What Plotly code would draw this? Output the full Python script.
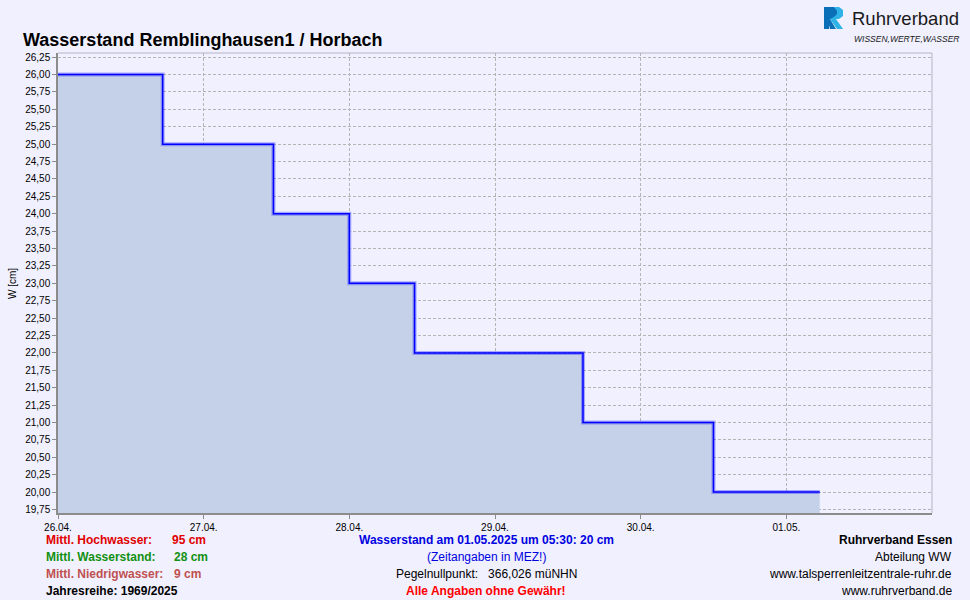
import plotly.graph_objects as go

# ---- data ----
times = ["2025-04-26 00:00", "2025-04-26 17:15", "2025-04-27 11:30", "2025-04-28 00:00",
         "2025-04-28 10:45", "2025-04-29 14:30", "2025-04-30 12:00", "2025-05-01 05:30"]
levels = [26.0, 25.0, 24.0, 23.0, 22.0, 21.0, 20.0, 20.0]
x_ticks = ["2025-04-26", "2025-04-27", "2025-04-28", "2025-04-29", "2025-04-30", "2025-05-01"]
x_tick_labels = ["26.04.", "27.04.", "28.04.", "29.04.", "30.04.", "01.05."]
x_range = ["2025-04-26 00:00", "2025-05-02 00:00"]
y_range = [19.70, 26.31]

title = "Wasserstand Remblinghausen1 / Horbach"
left_labels = ["Mittl. Hochwasser:", "Mittl. Wasserstand:", "Mittl. Niedrigwasser:", "Jahresreihe: 1969/2025"]
left_values = ["95 cm", "28 cm", "9 cm", ""]
left_colors = ["#E00000", "#129012", "#C05050", "#000000"]
center_lines = ["Wasserstand am 01.05.2025 um 05:30: 20 cm", "(Zeitangaben in MEZ!)",
                "Pegelnullpunkt:   366,026 müNHN", "Alle Angaben ohne Gewähr!"]
center_colors = ["#0000E0", "#0000E0", "#000000", "#FF0000"]
center_bold = [True, False, False, True]
right_lines = ["Ruhrverband Essen", "Abteilung WW", "www.talsperrenleitzentrale-ruhr.de", "www.ruhrverband.de"]
right_bold = [True, False, False, False]

W, H = 970, 600
L, R, T, B = 58, 38, 53, 87
PW, PH = W - L - R, H - T - B
FONT = "Liberation Sans, Arial, sans-serif"
BG = "#F0F0FF"


def px(x):
    return (x - L) / PW


def py(y):
    return (H - B - y) / PH


fig = go.Figure()
fig.add_trace(go.Scatter(x=times, y=levels, mode="lines", line=dict(shape="hv", width=0),
                         fill="tozeroy", fillcolor="#C5D1E8", hoverinfo="skip", showlegend=False))
fig.add_trace(go.Scatter(x=times, y=levels, mode="lines",
                         line=dict(shape="hv", width=4, color="rgba(0,0,255,0.3)"),
                         hoverinfo="skip", showlegend=False))
fig.add_trace(go.Scatter(x=times, y=levels, mode="lines",
                         line=dict(shape="hv", width=1.5, color="#0000FF"), showlegend=False))

ann = []
ann.append(dict(text="<b>" + title + "</b>", x=px(21), y=py(40), xref="paper", yref="paper",
                xanchor="left", yanchor="middle", showarrow=False,
                font=dict(family=FONT, size=18, color="#000000")))
ann.append(dict(text="W [cm]", x=px(12), y=py(284), xref="paper", yref="paper", textangle=-90,
                xanchor="center", yanchor="middle", showarrow=False,
                font=dict(family=FONT, size=10, color="#000000")))

rows_y = [540, 557, 574, 591]
value_x = [170, 172, 172, 0]
for i, yy in enumerate(rows_y):
    ann.append(dict(text="<b>" + left_labels[i] + "</b>", x=px(44), y=py(yy), xref="paper", yref="paper",
                    xanchor="left", yanchor="middle", showarrow=False,
                    font=dict(family=FONT, size=12, color=left_colors[i])))
    if left_values[i]:
        ann.append(dict(text="<b>" + left_values[i] + "</b>", x=px(value_x[i]), y=py(yy),
                        xref="paper", yref="paper", xanchor="left", yanchor="middle", showarrow=False,
                        font=dict(family=FONT, size=12, color=left_colors[i])))
    ctext = center_lines[i].replace(" ", "&nbsp;") if not center_bold[i] else center_lines[i]
    ann.append(dict(text=("<b>" + ctext + "</b>") if center_bold[i] else ctext, x=px(486), y=py(yy),
                    xref="paper", yref="paper", xanchor="center", yanchor="middle", showarrow=False,
                    font=dict(family=FONT, size=12, color=center_colors[i])))
    ann.append(dict(text=("<b>" + right_lines[i] + "</b>") if right_bold[i] else right_lines[i],
                    x=px(954), y=py(yy), xref="paper", yref="paper", xanchor="right", yanchor="middle",
                    showarrow=False, font=dict(family=FONT, size=12, color="#000000")))

# logo texts
ann.append(dict(text="Ruhrverband", x=px(850), y=py(18), xref="paper", yref="paper",
                xanchor="left", yanchor="middle", showarrow=False,
                font=dict(family=FONT, size=18.5, color="#1A1A1A")))
ann.append(dict(text="<i>WISSEN,WERTE,WASSER</i>", x=px(852), y=py(39), xref="paper", yref="paper",
                xanchor="left", yanchor="middle", showarrow=False,
                font=dict(family=FONT, size=8.5, color="#1A1A1A")))


def path(points):
    return "M " + " L ".join(f"{px(a):.5f},{py(b):.5f}" for a, b in points) + " Z"


shapes = []
# R icon: dark part
shapes.append(dict(type="path", xref="paper", yref="paper", line=dict(width=0), fillcolor="#0B6FB8",
                   path=path([(824, 7), (834, 7), (838, 10), (838, 16), (834, 19), (830, 19),
                              (836, 29), (830, 29), (829, 25), (829, 29), (824, 29)])))
# R icon: light part
shapes.append(dict(type="path", xref="paper", yref="paper", line=dict(width=0), fillcolor="#2FB2E6",
                   path=path([(834, 7), (839, 7), (843, 10), (843, 16), (839, 19), (836, 19),
                              (843, 29), (837, 29), (830, 19), (834, 17), (837, 14), (837, 11)])))
# top/right light frame
shapes.append(dict(type="line", xref="paper", yref="paper", x0=0, x1=1, y0=1, y1=1,
                   line=dict(color="#B4B4C4", width=1)))
shapes.append(dict(type="line", xref="paper", yref="paper", x0=1, x1=1, y0=0, y1=1,
                   line=dict(color="#B4B4C4", width=1)))

fig.update_layout(
    width=W, height=H, margin=dict(l=L, r=R, t=T, b=B, autoexpand=False),
    paper_bgcolor=BG, plot_bgcolor=BG, separators=",.",
    font=dict(family=FONT, size=10, color="#000000"),
    annotations=ann, shapes=shapes, showlegend=False,
    xaxis=dict(type="date", range=x_range, tickmode="array", tickvals=x_ticks, ticktext=x_tick_labels,
               showgrid=True, gridcolor="#B4B4B4", griddash="3px,2px", gridwidth=1,
               showline=True, linecolor="#8C8C8C", linewidth=1.5, ticks="outside", ticklen=4,
               tickcolor="#8C8C8C", tickfont=dict(size=10), zeroline=False, fixedrange=True),
    yaxis=dict(range=y_range, tick0=19.75, dtick=0.25, tickformat=".2f",
               showgrid=True, gridcolor="#B4B4B4", griddash="3px,2px", gridwidth=1,
               showline=True, linecolor="#8C8C8C", linewidth=1.5, ticks="outside", ticklen=4,
               tickcolor="#8C8C8C", tickfont=dict(size=10), zeroline=False, fixedrange=True),
)

fig.write_html("out.html", config={"displayModeBar": False},
               post_script="document.body.style.margin='0';document.body.style.background='%s';"
                           "document.body.style.overflow='hidden';" % BG)
